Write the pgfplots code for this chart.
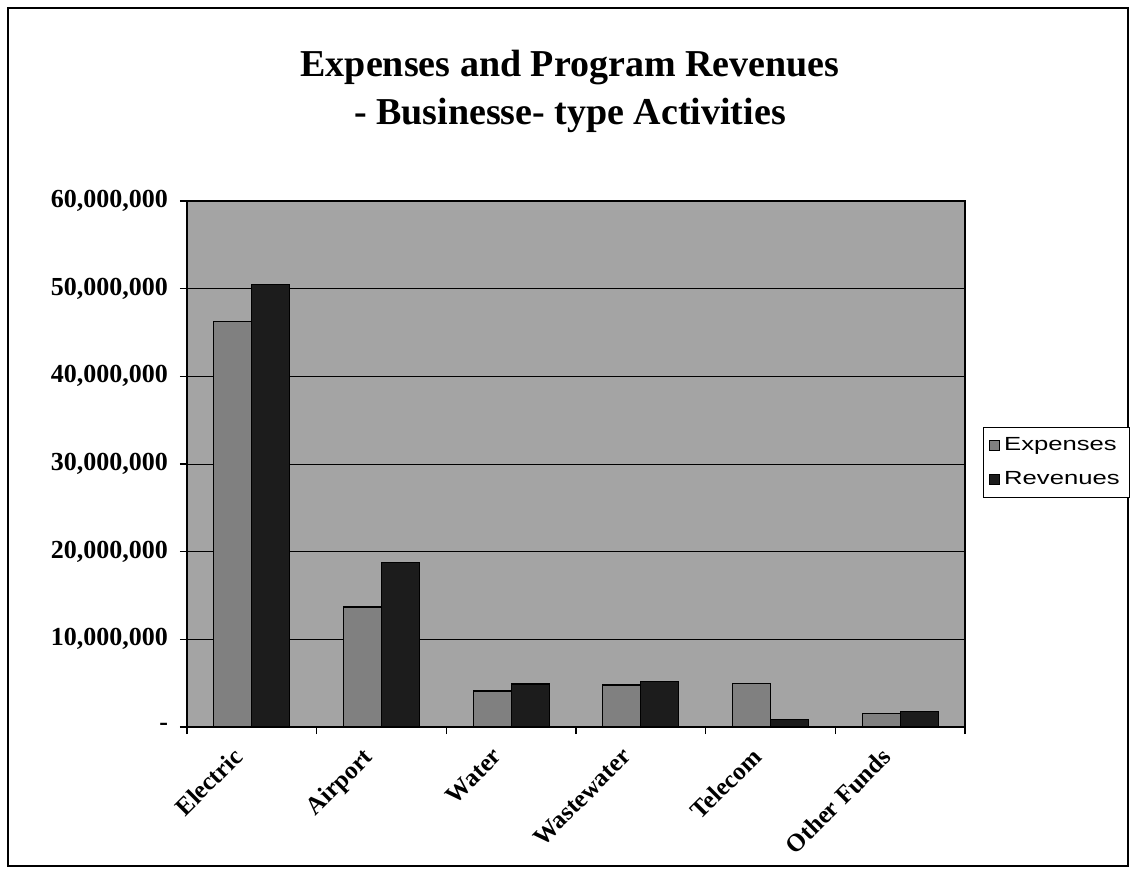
\documentclass[border=0pt]{standalone}
\usepackage{pgfplots}
\pgfplotsset{compat=1.18}
\usepackage{fontspec}
\setmainfont{Liberation Serif}
\newfontfamily\arialfont{Liberation Sans}
\definecolor{plotbg}{HTML}{A4A4A4}
\definecolor{expfill}{HTML}{808080}
\definecolor{revfill}{HTML}{1C1C1C}

\begin{document}
\begin{tikzpicture}
\path (-93.5pt,-73.5pt) rectangle (474.5pt,363.5pt);
\draw[black, line width=0.6pt] (-89.5pt,-69.5pt) rectangle (470.5pt,359.5pt);
\begin{axis}[
    at={(0,0)}, anchor=south west,
    scale only axis,
    width=389pt, height=263pt,
    ybar=0pt, bar width=19pt,
    xmin=-0.5, xmax=5.5,
    ymin=0, ymax=60000000,
    scaled y ticks=false,
    axis background/.style={fill=plotbg},
    axis line style={black, line width=0.6pt},
    tick align=outside,
    tick pos=left,
    major tick length=3.5pt,
    tick style={black, line width=0.6pt},
    xtick={-0.5,0.5,...,5.5},
    xticklabels={},
    extra x ticks={0,1,2,3,4,5},
    extra x tick labels={Electric,Airport,Water,Wastewater,Telecom,Other Funds},
    extra x tick style={major tick length=0pt,
        xticklabel style={xshift=-10pt, yshift=-8pt, rotate=45, anchor=north east, inner sep=1pt,
            font=\fontsize{12.5}{14}\selectfont\bfseries}},
    ytick={0,10000000,20000000,30000000,40000000,50000000,60000000},
    yticklabels={-,{10,000,000},{20,000,000},{30,000,000},{40,000,000},{50,000,000},{60,000,000}},
    yticklabel style={xshift=-2.5pt, font=\fontsize{13}{15}\selectfont\bfseries},
    ymajorgrids,
    grid style={black, line width=0.5pt},
    title={Expenses and Program Revenues\\- Businesse- type Activities},
    title style={align=center, at={(0.5,1)}, anchor=south, yshift=24.5pt, xshift=-3pt,
        font=\fontsize{19}{24}\selectfont\bfseries},
    legend style={at={(1.023,0.503)}, anchor=west, draw=black, fill=white,
        font=\arialfont\fontsize{9.5}{11.5}\selectfont, row sep=5pt,
        inner sep=3pt, line width=0.5pt},
    legend cell align=left,
    legend image code/.code={\draw[#1, draw=black, line width=0.4pt] (0pt,-2.5pt) rectangle (5pt,2.5pt);},
]
\addplot[fill=expfill, draw=black, line width=0.6pt] coordinates {
    (0, 46300000) (1, 13700000) (2, 4100000) (3, 4800000) (4, 5000000) (5, 1550000)
};
\addplot[fill=revfill, draw=black, line width=0.6pt] coordinates {
    (0, 50500000) (1, 18800000) (2, 4900000) (3, 5200000) (4, 880000) (5, 1750000)
};
\legend{\scalebox{1.35}[1]{Expenses}, \scalebox{1.35}[1]{Revenues}}
\end{axis}
\end{tikzpicture}
\end{document}
